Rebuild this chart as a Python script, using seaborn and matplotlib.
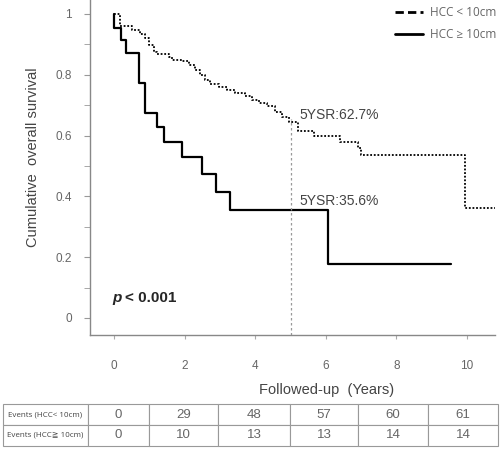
import matplotlib
matplotlib.use("Agg")
import matplotlib.pyplot as plt
from matplotlib.lines import Line2D
from matplotlib.ticker import MultipleLocator
import seaborn as sns

# survival curves (years, cumulative survival)
small_t = [0, 0.18, 0.51, 0.75, 0.89, 0.98, 1.12, 1.22, 1.55, 1.64, 1.93, 2.12, 2.30,
           2.44, 2.59, 2.73, 2.96, 3.20, 3.44, 3.72, 3.91, 4.10, 4.33, 4.57, 4.76,
           4.95, 5.20, 5.66, 6.40, 6.90, 7.00, 9.95, 10.80]
small_s = [1.0, 0.960, 0.947, 0.934, 0.920, 0.898, 0.876, 0.870, 0.860, 0.849, 0.844,
           0.832, 0.816, 0.800, 0.783, 0.770, 0.759, 0.750, 0.741, 0.730, 0.717, 0.708,
           0.697, 0.679, 0.662, 0.646, 0.615, 0.599, 0.579, 0.558, 0.536, 0.362, 0.362]

large_t = [0, 0, 0.19, 0.34, 0.71, 0.88, 1.22, 1.42, 1.93, 2.50, 2.89, 3.29, 6.06, 9.55]
large_s = [1.0, 0.955, 0.914, 0.872, 0.773, 0.674, 0.628, 0.579, 0.530, 0.474, 0.414,
           0.356, 0.178, 0.178]

five_year = 5
ysr_labels = ["5YSR:62.7%", "5YSR:35.6%"]
ysr_values = [0.627, 0.356]

years = [0, 2, 4, 6, 8, 10]
events_small = [0, 29, 48, 57, 60, 61]
events_large = [0, 10, 13, 13, 14, 14]
row_names = ["Events (HCC< 10cm)", "Events (HCC\u2267 10cm)"]

sns.set_style("white")
plt.rcParams["font.family"] = ["Liberation Sans", "DejaVu Sans"]

fig = plt.figure(figsize=(5.02, 4.49), dpi=100)
ax = fig.add_axes([90 / 502, 1 - 335 / 449, 405 / 502, 335 / 449])

sns.lineplot(x=small_t, y=small_s, drawstyle="steps-post", color="black",
             linestyle=(0, (1, 1)), linewidth=1.3, estimator=None, sort=False, ax=ax)
sns.lineplot(x=large_t, y=large_s, drawstyle="steps-post", color="black",
             linewidth=1.6, estimator=None, sort=False, ax=ax)

ax.set_xlim(-0.68, 10.79)
ax.set_ylim(-0.056, 1.046)
ax.axvline(five_year, ymin=0, ymax=(0.655 + 0.056) / 1.102, color="#999999",
           linestyle=(0, (2, 2)), linewidth=0.9)

ax.text(5.25, ysr_values[0] + 0.041, ysr_labels[0], fontsize=10, color="#444444", va="center")
ax.text(5.25, ysr_values[1] + 0.029, ysr_labels[1], fontsize=10, color="#444444", va="center")

ax.text(-0.04, 0.066, "p", fontsize=11, fontweight="bold", fontstyle="italic", va="center")
ax.text(0.31, 0.066, "< 0.001", fontsize=11, fontweight="bold", va="center")

for side in ["top", "right"]:
    ax.spines[side].set_visible(False)
for side in ["left", "bottom"]:
    ax.spines[side].set_color("#888888")
    ax.spines[side].set_linewidth(1.0)

ax.set_xticks(years)
ax.set_yticks([0, 0.2, 0.4, 0.6, 0.8, 1])
ax.set_yticklabels(["0", "0.2", "0.4", "0.6", "0.8", "1"])
ax.yaxis.set_minor_locator(MultipleLocator(0.1))
ax.tick_params(axis="y", which="both", left=True, length=4, color="#999999",
               labelsize=8.5, labelcolor="#666666", pad=9)
ax.tick_params(axis="x", bottom=True, length=3, color="#aaaaaa",
               labelsize=8.5, labelcolor="#666666", pad=15)
ax.set_ylabel("Cumulative  overall survival", fontsize=10.5, color="#444444")
ax.yaxis.set_label_coords(-50 / 405, 1 - 157 / 335)
ax.set_xlabel("")

fig.text(327 / 502, 1 - 390 / 449, "Followed-up  (Years)", fontsize=10.5,
         color="#444444", ha="center", va="center")

handles = [Line2D([], [], color="black", linestyle=(0, (3, 1.5)), linewidth=2),
           Line2D([], [], color="black", linewidth=2)]
leg = fig.legend(handles, ["HCC < 10cm", "HCC \u2265 10cm"], loc="upper right",
                 bbox_to_anchor=(1.01, 1.01), frameon=False,
                 handlelength=2.4, handletextpad=0.6, labelspacing=0.75,
                 prop={"family": ["Open Sans", "DejaVu Sans"], "size": 8.5})
for t in leg.get_texts():
    t.set_color("#666666")

# events table under the plot
tab = fig.add_axes([3 / 502, 1 - 446 / 449, 495 / 502, 42 / 449])
tab.axis("off")
cells = [[row_names[0]] + [str(v) for v in events_small],
         [row_names[1]] + [str(v) for v in events_large]]
widths = [85, 61, 69, 72, 68, 70, 70]
table = tab.table(cellText=cells, colWidths=[w / sum(widths) for w in widths],
                  cellLoc="center", bbox=[0, 0, 1, 1])
table.auto_set_font_size(False)
for (r, c), cell in table.get_celld().items():
    cell.set_edgecolor("#999999")
    cell.set_linewidth(0.8)
    if c == 0:
        cell.get_text().set_fontsize(5.8)
        cell.get_text().set_color("#444444")
        cell.get_text().set_fontfamily(["Open Sans", "DejaVu Sans"])
    else:
        cell.get_text().set_fontsize(9.5)
        cell.get_text().set_color("#666666")

fig.savefig("out.png", dpi=100)
